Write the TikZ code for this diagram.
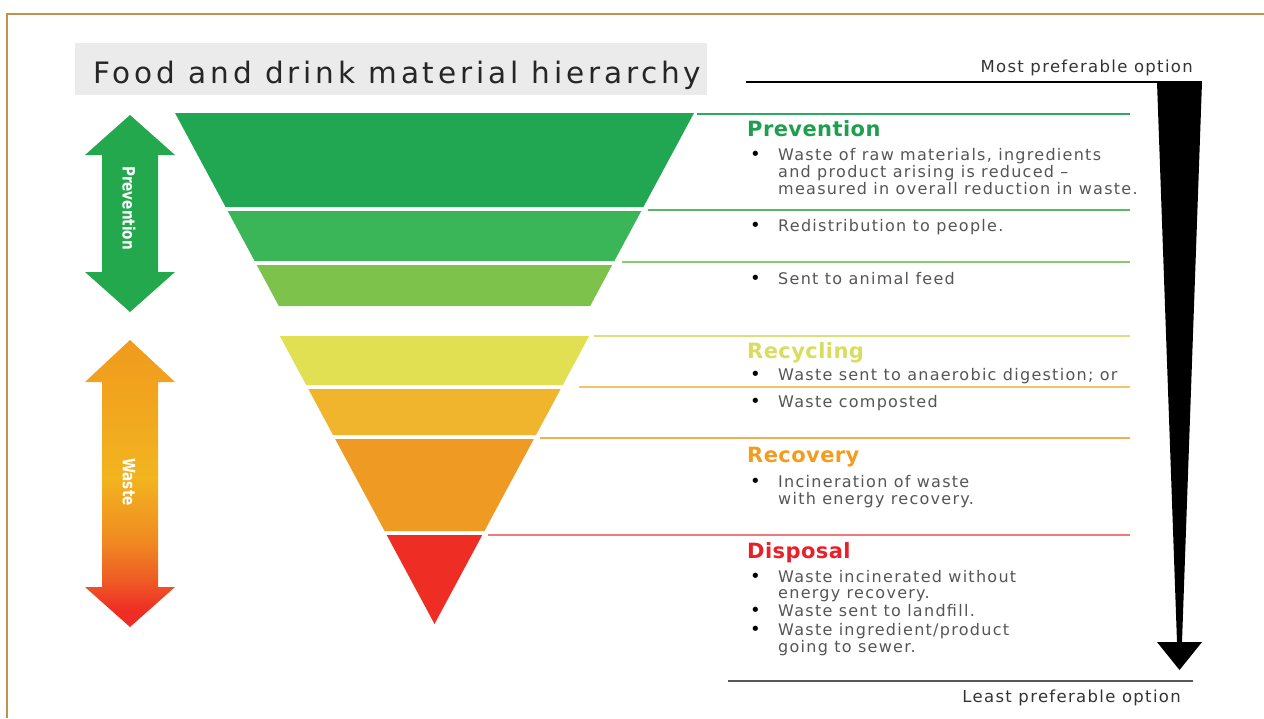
\documentclass[tikz,border=0pt]{standalone}
\usepackage{fontspec}
\setmainfont{DejaVu Sans}
\newfontfamily\bodyfont[LetterSpace=8]{DejaVu Sans}
\newfontfamily\headfont[LetterSpace=2]{DejaVu Sans}
\newfontfamily\titlefont[LetterSpace=13]{DejaVu Sans}
\usepackage{xcolor}
\usetikzlibrary{positioning}

\definecolor{framegold}{HTML}{C4914A}
\definecolor{titlegray}{HTML}{EBEBEB}
\definecolor{textgray}{HTML}{555555}
\definecolor{tierA}{HTML}{21A651}
\definecolor{tierB}{HTML}{3AB557}
\definecolor{tierC}{HTML}{7DC24A}
\definecolor{tierD}{HTML}{E1E052}
\definecolor{tierE}{HTML}{F0B52D}
\definecolor{tierF}{HTML}{EF9A23}
\definecolor{tierG}{HTML}{EE2E24}
\definecolor{lineA}{HTML}{2BAA60}
\definecolor{lineB}{HTML}{5BB86A}
\definecolor{lineC}{HTML}{8CC870}
\definecolor{lineD}{HTML}{DDE07A}
\definecolor{lineE}{HTML}{F2C56A}
\definecolor{lineF}{HTML}{F2AE50}
\definecolor{lineG}{HTML}{EE7A7A}
\definecolor{headPrev}{HTML}{1E9F4E}
\definecolor{headRecy}{HTML}{D8DD5E}
\definecolor{headReco}{HTML}{F39C1E}
\definecolor{headDisp}{HTML}{E8202A}
\definecolor{arrowGreen}{HTML}{23A84E}
\definecolor{wasteB}{HTML}{EE5A24}
\definecolor{wasteC}{HTML}{F08A22}
\definecolor{wasteD}{HTML}{F2B41F}
\definecolor{wasteE}{HTML}{F09A1E}

\pgfdeclareverticalshading{wastefade}{100bp}{color(0bp)=(tierG); color(28bp)=(tierG);
    color(33bp)=(wasteB); color(40bp)=(wasteC); color(51bp)=(wasteD);
    color(75bp)=(wasteE); color(100bp)=(wasteE)}

\newcommand\bulletlines[1]{\begin{tabular}[t]{@{}l@{}}#1\end{tabular}}

\begin{document}
\begin{tikzpicture}[
        x=1pt, y=-1pt,
        txt/.style={anchor=base west, inner sep=0pt, text=textgray,
            font=\bodyfont\fontsize{16}{16.3}\selectfont},
        dot/.style={anchor=base west, inner sep=0pt, font=\fontsize{18}{18}\selectfont},
        heading/.style={anchor=base west, inner sep=0pt, font=\headfont\bfseries\fontsize{21}{23}\selectfont},
        option/.style={inner sep=0pt, text=black!80, font=\bodyfont\fontsize{16.5}{18}\selectfont},
        guide/.style={line width=1.5pt},
        sidelabel/.style={text=white, inner sep=0pt, rotate=-90,
            font=\bfseries\fontsize{17}{17}\selectfont}
    ]
    \useasboundingbox (0,0) rectangle (1264,718);

    % Frame and title
    \draw[framegold, line width=2pt] (7,718) -- (7,14) -- (1264,14);
    \fill[titlegray] (75,43) rectangle (707,95);
    \node[anchor=base west, inner sep=0pt, text=black!85,
        font=\titlefont\fontsize{29.5}{31}\selectfont] (title) at (93,83)
        {Food and drink material hierarchy};

    % Side arrows
    \fill[arrowGreen] (130,115) -- (175,155) -- (158,155) -- (158,272) -- (175,272)
        -- (130,312) -- (85,272) -- (102,272) -- (102,155) -- (85,155) -- cycle;
    \shade[shading=wastefade]
        (130,340) -- (175,382) -- (158,382) -- (158,587) -- (175,587)
        -- (130,627) -- (85,587) -- (102,587) -- (102,382) -- (85,382) -- cycle;
    \node[sidelabel] (prevarrow) at (129,208) {\scalebox{0.8}[1]{Prevention}};
    \node[sidelabel] (wastearrow) at (129,482) {\scalebox{0.8}[1]{Waste}};

    % Inverted pyramid
    \foreach \t/\b/\c in {113/207/tierA, 211/261/tierB, 265/306/tierC}
        \fill[\c] ({175+0.538*(\t-113)},\t) -- ({694-0.538*(\t-113)},\t)
            -- ({694-0.538*(\b-113)},\b) -- ({175+0.538*(\b-113)},\b) -- cycle;
    \foreach \t/\b/\c in {336/385/tierD, 389/435/tierE, 439/531/tierF, 535/624/tierG}
        \fill[\c] ({434.5-0.537*(624-\t)},\t) -- ({434.5+0.537*(624-\t)},\t)
            -- ({434.5+0.537*(624-\b)},\b) -- ({434.5-0.537*(624-\b)},\b) -- cycle;

    % Guide lines
    \foreach \y/\x/\c in {114/697/lineA, 210/648/lineB, 262/622/lineC, 336/594/lineD,
            387/579/lineE, 438/540/lineF, 535/488/lineG}
        \draw[guide, \c] (\x,\y) -- (1130,\y);

    % Preference arrow
    \coordinate (topleft) at (746,82);
    \coordinate (botleft) at (728,681);
    \fill[black] (1157,82) -- (1202,82) -- (1182,642) -- (1202,642) -- (1179.5,670)
        -- (1157,642) -- (1177,642) -- cycle;
    \draw[black, line width=2pt] (topleft) -- (1202,82);
    \draw[black!65, line width=1.5pt] (botleft) -- (1193,681);
    \node[option, anchor=base east] (most) at (1193,72) {Most preferable option};
    \node[option, anchor=base east] (least) at (1181,702) {Least preferable option};

    % Prevention
    \node[heading, text=headPrev] (prev) at (747,136) {Prevention};
    \node[dot] (b1) at (750,160) {\textbullet};
    \node[txt, base right=17pt of b1] (t1) {\bulletlines{Waste of raw materials, ingredients\\
        and product arising is reduced –\\measured in overall reduction in waste.}};
    \node[dot] (b2) at (750,231) {\textbullet};
    \node[txt, base right=17pt of b2] (t2) {Redistribution to people.};
    \node[dot] (b3) at (750,284) {\textbullet};
    \node[txt, base right=17pt of b3] (t3) {Sent to animal feed};

    % Recycling
    \node[heading, text=headRecy] (recy) at (747,358) {Recycling};
    \node[dot] (b4) at (750,380) {\textbullet};
    \node[txt, base right=17pt of b4] (t4) {Waste sent to anaerobic digestion; or};
    \node[dot] (b5) at (750,407) {\textbullet};
    \node[txt, base right=17pt of b5] (t5) {Waste composted};

    % Recovery
    \node[heading, text=headReco] (reco) at (747,462) {Recovery};
    \node[dot] (b6) at (750,487) {\textbullet};
    \node[txt, base right=17pt of b6] (t6) {\bulletlines{Incineration of waste\\with energy recovery.}};

    % Disposal
    \node[heading, text=headDisp] (disp) at (747,558) {Disposal};
    \node[dot] (b7) at (750,582) {\textbullet};
    \node[txt, base right=17pt of b7] (t7) {\bulletlines{Waste incinerated without\\energy recovery.}};
    \node[dot] (b8) at (750,616) {\textbullet};
    \node[txt, base right=17pt of b8] (t8) {Waste sent to landfill.};
    \node[dot] (b9) at (750,635) {\textbullet};
    \node[txt, base right=17pt of b9] (t9) {\bulletlines{Waste ingredient/product\\going to sewer.}};
\end{tikzpicture}
\end{document}
